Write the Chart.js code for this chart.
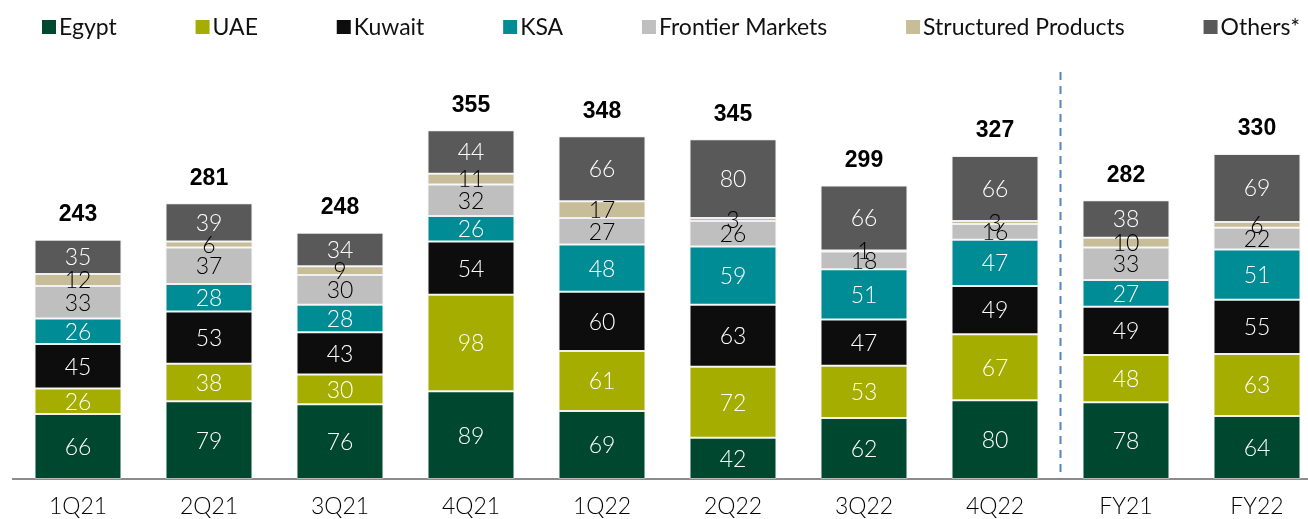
<!DOCTYPE html>
<html>
<head>
<meta charset="utf-8">
<script src="https://cdn.jsdelivr.net/npm/chart.js@4/dist/chart.umd.min.js"></script>
<style>
  html, body { margin: 0; padding: 0; background: #fff; overflow: hidden; }
  #wrap { width: 1308px; height: 519px; overflow: hidden; position: relative; }
  canvas { display: block; }
</style>
</head>
<body>
<div id="wrap"><canvas id="c" width="1323" height="519"></canvas></div>
<script>
const categories = ['1Q21','2Q21','3Q21','4Q21','1Q22','2Q22','3Q22','4Q22','FY21','FY22'];
const egypt      = [66, 79, 76, 89, 69, 42, 62, 80, 78, 64];
const uae        = [26, 38, 30, 98, 61, 72, 53, 67, 48, 63];
const kuwait     = [45, 53, 43, 54, 60, 63, 47, 49, 49, 55];
const ksa        = [26, 28, 28, 26, 48, 59, 51, 47, 27, 51];
const frontier   = [33, 37, 30, 32, 27, 26, 18, 16, 33, 22];
const structured = [12,  6,  9, 11, 17,  3,  1,  3, 10,  6];
const others     = [35, 39, 34, 44, 66, 80, 66, 66, 38, 69];
const totals     = [243, 281, 248, 355, 348, 345, 299, 327, 282, 330];

const seriesNames  = ['Egypt','UAE','Kuwait','KSA','Frontier Markets','Structured Products','Others*'];
const seriesData   = [egypt, uae, kuwait, ksa, frontier, structured, others];
const seriesColors = ['#004730','#a5ad00','#0d0d0d','#008c95','#bfbfbf','#c7bd98','#595959'];
const labelColors  = ['#ffffff','#ffffff','#ffffff','#ffffff','#000000','#000000','#ffffff'];

const LABEL_FONT = '"Lato", "Open Sans", sans-serif';

const datasets = seriesNames.map((n, i) => ({
  label: n,
  data: seriesData[i],
  backgroundColor: seriesColors[i],
  borderColor: 'rgba(225,225,225,0.5)',
  borderWidth: 1,
  borderSkipped: false,
  barPercentage: 0.664,
  categoryPercentage: 1.0
}));

const overlayPlugin = {
  id: 'overlay',
  afterDatasetsDraw(chart) {
    const ctx = chart.ctx;
    ctx.save();
    ctx.font = '300 23px ' + LABEL_FONT;
    ctx.textAlign = 'center';
    ctx.textBaseline = 'middle';
    chart.data.datasets.forEach((ds, di) => {
      const meta = chart.getDatasetMeta(di);
      meta.data.forEach((bar, i) => {
        const v = ds.data[i];
        const p = bar.getProps(['x','y','base'], true);
        ctx.fillStyle = labelColors[di];
        ctx.fillText(String(v), p.x, (p.y + p.base) / 2 + 1);
      });
    });
    const lastMeta = chart.getDatasetMeta(chart.data.datasets.length - 1);
    ctx.font = 'bold 23px "Liberation Sans", Arial, sans-serif';
    ctx.fillStyle = '#000';
    lastMeta.data.forEach((bar, i) => {
      const p = bar.getProps(['x','y'], true);
      ctx.fillText(String(totals[i]), p.x, p.y - 25);
    });
    const xs = chart.scales.x;
    const sx = (xs.getPixelForValue(7) + xs.getPixelForValue(8)) / 2;
    ctx.strokeStyle = '#5585c5';
    ctx.lineWidth = 2;
    ctx.setLineDash([8, 6]);
    ctx.beginPath();
    ctx.moveTo(sx, 72);
    ctx.lineTo(sx, chart.chartArea.bottom);
    ctx.stroke();
    ctx.setLineDash([]);
    ctx.font = '23px ' + LABEL_FONT;
    ctx.textAlign = 'left';
    const box = 14, gapBT = 3;
    const widths = seriesNames.map(n => ctx.measureText(n).width);
    const startX = 42, endX = 1300;
    const used = widths.reduce((a, b) => a + b, 0) + seriesNames.length * (box + gapBT);
    const gap = (endX - startX - used) / (seriesNames.length - 1);
    let x = startX;
    seriesNames.forEach((n, i) => {
      ctx.fillStyle = seriesColors[i];
      ctx.fillRect(x, 20, box, box);
      ctx.fillStyle = '#111';
      ctx.fillText(n, x + box + gapBT, 28);
      x += box + gapBT + widths[i] + gap;
    });
    ctx.restore();
  }
};

new Chart(document.getElementById('c'), {
  type: 'bar',
  data: { labels: categories, datasets },
  options: {
    responsive: false,
    animation: false,
    layout: { padding: { top: 85, left: 12.5, right: 0.5, bottom: 0 } },
    plugins: { legend: { display: false }, tooltip: { enabled: false } },
    scales: {
      x: {
        stacked: true,
        grid: { display: false, drawTicks: false },
        border: { display: true, color: '#8c8c8c', width: 2 },
        ticks: { color: '#000', font: { size: 23, family: LABEL_FONT, weight: 300 }, padding: 14, maxRotation: 0 },
        afterFit(scale) { scale.height = 40; }
      },
      y: {
        stacked: true,
        display: false,
        min: 0,
        max: 400
      }
    }
  },
  plugins: [overlayPlugin]
});
</script>
</body>
</html>
